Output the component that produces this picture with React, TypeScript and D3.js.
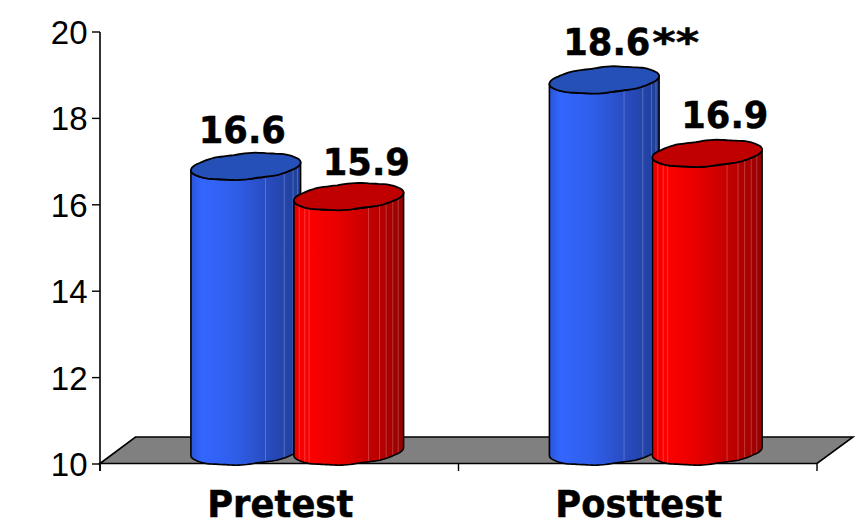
import * as d3 from "d3";

const categories = ["Pretest", "Posttest"];
const blueValues = [16.6, 18.6];
const redValues = [15.9, 16.9];
const blueSuffixes = ["", "**"];
const redSuffixes = ["", ""];
const yTicks = [10, 12, 14, 16, 18, 20];

const WIDTH = 857;
const HEIGHT = 522;

// Fixed wobble that gives the hand-cut look of the cylinder rims.
const rimWobble = [0.0, 0.9, 0.2, -0.8, 0.4, 1.0, -0.3, -0.9, 0.5, 0.8, -0.5, -0.7, 0.6, 0.3, -0.9, 0.1];

// Facet lines on the cylinder walls, as fractions of the cylinder width.
const blueFacets = [0.68, 0.85, 0.93, 0.97];
const redFacets = [0.05, 0.1, 0.14, 0.68, 0.78, 0.84, 0.9, 0.95];

const x = d3.scaleBand<string>().domain(categories).range([100, 817]);
const y = d3.scaleLinear().domain([10, 20]).range([464, 32]);
const seriesOffset = d3.scalePoint<string>().domain(["blue", "red"]).range([-88.5, 14.5]);

const CYL_W = 110;
const RX = CYL_W / 2;
const RY = 12.8;
const TILT = (4.4 * Math.PI) / 180;
const CAP_LIFT = 12.5;
const TEXT_SQUEEZE = 0.93;

type Pt = [number, number];

function rimPoint(cx: number, cy: number, theta: number, wobble: boolean): Pt {
  let k = 1;
  if (wobble) {
    const n = rimWobble.length;
    const f = ((theta / (2 * Math.PI)) * n * 2 + n * 4) % n;
    const i = Math.floor(f);
    const a = rimWobble[i];
    const b = rimWobble[(i + 1) % n];
    k = 1 + (a + (b - a) * (f - i)) * 0.04;
  }
  const ex = RX * Math.cos(theta);
  const ey = RY * k * Math.sin(theta);
  return [cx + ex * Math.cos(TILT) + ey * Math.sin(TILT), cy - ex * Math.sin(TILT) + ey * Math.cos(TILT)];
}

const lineClosed = d3.line<Pt>().curve(d3.curveLinearClosed);

function Cylinder(props: { id: string; left: number; value: number; grad: string; cap: string; facets: number[] }) {
  const { id, left, value, grad, cap, facets } = props;
  const cx = left + RX;
  const topY = y(value) - CAP_LIFT;
  const baseY = y(10) - CAP_LIFT;
  const thetasLower = d3.range(0, 65).map((i) => (i / 64) * Math.PI);
  const thetasAll = d3.range(0, 96).map((i) => (i / 96) * 2 * Math.PI);
  const lower = thetasLower.map((t) => rimPoint(cx, baseY, t, true));
  const upperBack = thetasLower
    .slice()
    .reverse()
    .map((t) => rimPoint(cx, topY, t, false));
  const body = lineClosed([...lower, ...upperBack]) as string;
  const capPath = lineClosed(thetasAll.map((t) => rimPoint(cx, topY, t, true))) as string;
  return (
    <g>
      <clipPath id={`clip-${id}`}>
        <path d={body} />
      </clipPath>
      <path d={body} fill={`url(#${grad})`} />
      <g clipPath={`url(#clip-${id})`}>
        {facets.map((f, i) => (
          <line
            key={i}
            x1={left + f * CYL_W}
            x2={left + f * CYL_W}
            y1={topY}
            y2={baseY + RY + 6}
            stroke="#ffffff"
            strokeOpacity={0.22}
            strokeWidth={1}
          />
        ))}
      </g>
      <path d={body} fill="none" stroke="#000" strokeWidth={1.6} strokeLinejoin="round" />
      <path d={capPath} fill={cap} stroke="#000" strokeWidth={1.8} strokeLinejoin="round" />
    </g>
  );
}

function Gradient(props: { id: string; stops: [number, string][] }) {
  return (
    <linearGradient id={props.id} x1="0" x2="1" y1="0" y2="0">
      {props.stops.map(([o, c]) => (
        <stop key={o} offset={o} stopColor={c} />
      ))}
    </linearGradient>
  );
}

const labelFont = "'DejaVu Sans', sans-serif";
const axisFont = "'Liberation Sans', Arial, sans-serif";

function BoldText(props: { x: number; y: number; squeeze?: number; anchor?: string; children: string }) {
  return (
    <text
      transform={`translate(${props.x},${props.y}) scale(${props.squeeze ?? TEXT_SQUEEZE},1)`}
      textAnchor={props.anchor ?? "start"}
      fontFamily={labelFont}
      fontWeight="bold"
      fontSize={38}
      fill="#000"
      stroke="#000"
      strokeWidth={0.5}
    >
      {props.children}
    </text>
  );
}

export default function App() {
  const axisX = 100;
  const floorFront = y(10) - 0.5;
  const floorBack = 437;
  const floorDepth = 35.5;
  const floorPath = lineClosed([
    [axisX, floorFront],
    [axisX + floorDepth, floorBack],
    [853, floorBack],
    [817, floorFront],
  ]) as string;
  const xBoundaries = [100, 100 + x.bandwidth(), 817];

  const labels = categories.flatMap((c, i) => {
    const cc = (x(c) as number) + x.bandwidth() / 2;
    const blueLeft = cc + (seriesOffset("blue") as number);
    const redLeft = cc + (seriesOffset("red") as number);
    return [
      { text: blueValues[i].toFixed(1), suffix: blueSuffixes[i], left: blueLeft, value: blueValues[i], nudgeX: i === 0 ? 8 : 14, nudgeY: i === 0 ? -36 : -37 },
      { text: redValues[i].toFixed(1), suffix: redSuffixes[i], left: redLeft, value: redValues[i], nudgeX: 29, nudgeY: i === 0 ? -34 : -38 },
    ];
  });

  return (
    <svg
      width={WIDTH}
      height={HEIGHT}
      viewBox={`0 0 ${WIDTH} ${HEIGHT}`}
      style={{ position: "fixed", left: 0, top: 0, background: "#fff" }}
    >
      <defs>
        <Gradient
          id="blueWall"
          stops={[
            [0, "#2a55d8"],
            [0.1, "#3366ff"],
            [0.4, "#2f5ee8"],
            [0.75, "#2749b8"],
            [1, "#1f3f96"],
          ]}
        />
        <Gradient
          id="redWall"
          stops={[
            [0, "#e00000"],
            [0.1, "#ff0000"],
            [0.4, "#e80000"],
            [0.75, "#bb0000"],
            [1, "#960000"],
          ]}
        />
      </defs>

      <path d={floorPath} fill="#808080" stroke="#000" strokeWidth={1.6} />

      <line x1={axisX} x2={axisX} y1={y(20)} y2={471} stroke="#000" strokeWidth={1.6} />
      {yTicks.map((t) => (
        <g key={t}>
          <line x1={92} x2={axisX} y1={y(t)} y2={y(t)} stroke="#000" strokeWidth={1.4} />
          <text x={87.5} y={y(t) + 12} textAnchor="end" fontFamily={axisFont} fontSize={33} fill="#000">
            {t}
          </text>
        </g>
      ))}
      {xBoundaries.map((bx) => (
        <line key={bx} x1={bx} x2={bx} y1={floorFront} y2={471} stroke="#000" strokeWidth={1.4} />
      ))}

      {categories.map((c, i) => {
        const cc = (x(c) as number) + x.bandwidth() / 2;
        const blueLeft = cc + (seriesOffset("blue") as number);
        const redLeft = cc + (seriesOffset("red") as number);
        return (
          <g key={c}>
            <Cylinder id={`b${i}`} left={blueLeft} value={blueValues[i]} grad="blueWall" cap="#2450b8" facets={blueFacets} />
            <Cylinder id={`r${i}`} left={redLeft} value={redValues[i]} grad="redWall" cap="#c00000" facets={redFacets} />
          </g>
        );
      })}

      {labels.map((l) => (
        <g key={l.text}>
          <BoldText x={l.left + l.nudgeX} y={y(l.value) + l.nudgeY}>
            {l.text}
          </BoldText>
          {l.suffix && (
            <BoldText x={l.left + l.nudgeX + 89} y={y(l.value) + l.nudgeY} squeeze={1.18}>
              {l.suffix}
            </BoldText>
          )}
        </g>
      ))}

      {categories.map((c) => (
        <BoldText key={c} x={(x(c) as number) + x.bandwidth() / 2 + 1} y={517} anchor="middle">
          {c}
        </BoldText>
      ))}
    </svg>
  );
}
